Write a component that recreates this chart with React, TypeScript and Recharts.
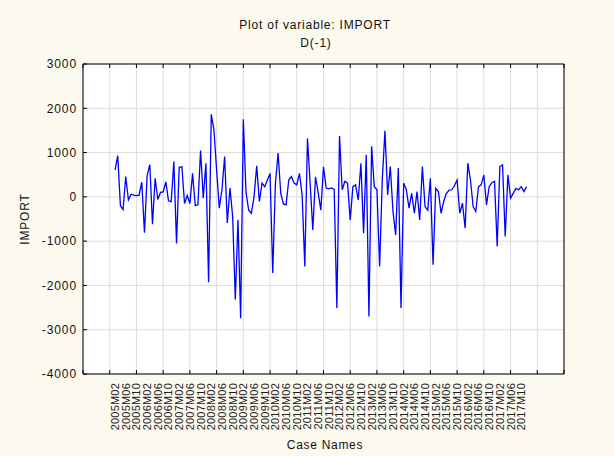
import React from "react";
import {
  LineChart,
  Line,
  XAxis,
  YAxis,
  CartesianGrid,
} from "recharts";

// D(-1) of IMPORT, monthly, 2005M02 .. 2017M12 (one row per year, Jan..Dec)
const values2005 = [609, 930, -200, -290, 460, -70, 60, 40, 30, 40, 330];
const values2006 = [-810, 480, 730, -620, 420, -60, 100, 110, 340, -90, -110, 800];
const values2007 = [-1050, 670, 680, -150, 30, -150, 530, -200, -180, 1045, -30, 760];
const values2008 = [-1930, 1865, 1510, 610, -255, 160, 910, -590, 200, -440, -2320, -520];
const values2009 = [-2740, 1750, 100, -300, -370, 0, 700, -105, 310, 230, 380, 530];
const values2010 = [-1720, 300, 990, 80, -160, -180, 380, 460, 310, 270, 530, 45];
const values2011 = [-1570, 1320, 300, -750, 450, 100, -300, 680, 200, 180, 200, 170];
const values2012 = [-2510, 1375, 160, 350, 310, -520, 230, 270, -70, 760, -820, 950];
const values2013 = [-2700, 1140, 230, 160, -1570, 400, 1490, 45, 685, -330, -860, 650];
const values2014 = [-2510, 310, 160, -255, 80, -370, 120, -520, 685, -220, -300, 420];
const values2015 = [-1535, 195, 120, -370, -100, 80, 150, 160, 250, 380, -370, -140];
const values2016 = [-710, 760, 380, -220, -330, 230, 270, 495, -180, 230, 320, 350];
const values2017 = [-1120, 685, 720, -895, 495, -30, 80, 190, 160, 230, 120, 230];

const series = [
  ...values2005, ...values2006, ...values2007, ...values2008, ...values2009,
  ...values2010, ...values2011, ...values2012, ...values2013, ...values2014,
  ...values2015, ...values2016, ...values2017,
];

// case numbers: first observation is case 12
const firstCase = 12;

const caseLabels = [
  "2005M02", "2005M06", "2005M10", "2006M02", "2006M06", "2006M10",
  "2007M02", "2007M06", "2007M10", "2008M02", "2008M06", "2008M10",
  "2009M02", "2009M06", "2009M10", "2010M02", "2010M06", "2010M10",
  "2011M02", "2011M06", "2011M10", "2012M02", "2012M06", "2012M10",
  "2013M02", "2013M06", "2013M10", "2014M02", "2014M06", "2014M10",
  "2015M02", "2015M06", "2015M10", "2016M02", "2016M06", "2016M10",
  "2017M02", "2017M06", "2017M10",
];

const yTicks = [-4000, -3000, -2000, -1000, 0, 1000, 2000, 3000];
const gridTicks = [0, 10, 20, 30, 40, 50, 60, 70, 80, 90, 100, 110, 120, 130, 140, 150, 160, 170, 180];

const data = series.map((v, i) => ({ caseNo: firstCase + i, value: v }));
const labelTicks = caseLabels.map((_, k) => firstCase + k * 4);

const FONT = "'Liberation Sans', Arial, sans-serif";

const CaseTick = (props: any) => {
  const { x, y, payload } = props;
  const label = caseLabels[(payload.value - firstCase) / 4];
  return (
    <text
      x={x}
      y={y}
      dy="0.36em"
      transform={`rotate(-90 ${x} ${y})`}
      textAnchor="end"
      fontSize={11}
      fontFamily={FONT}
      letterSpacing={0.2}
      fill="#222"
    >
      {label}
    </text>
  );
};

const NoTick = () => <g />;

const tickStyle = { fill: "#111", fontSize: 12, fontFamily: FONT, letterSpacing: 0.9 };

export default function App() {
  return (
    <div
      style={{
        position: "absolute",
        left: 0,
        top: 0,
        width: 614,
        height: 456,
        background: "#fcf9ef",
        fontFamily: FONT,
        color: "#111",
      }}
    >
      <div style={{ position: "absolute", left: 0, width: 630, top: 18, textAlign: "center", fontSize: 12, lineHeight: "14px", letterSpacing: 0.8 }}>
        Plot of variable: IMPORT
      </div>
      <div style={{ position: "absolute", left: 0, width: 632, top: 36, textAlign: "center", fontSize: 12, lineHeight: "14px", letterSpacing: 0.8 }}>
        D(-1)
      </div>
      <div
        style={{
          position: "absolute",
          left: 25,
          top: 219,
          transform: "translate(-50%, -50%) rotate(-90deg)",
          fontSize: 12,
          letterSpacing: 0.8,
          whiteSpace: "nowrap",
        }}
      >
        IMPORT
      </div>
      <div style={{ position: "absolute", left: 0, width: 650, top: 438, textAlign: "center", fontSize: 12, lineHeight: "14px", letterSpacing: 0.7 }}>
        Case Names
      </div>
      <LineChart
        width={614}
        height={456}
        data={data}
        margin={{ top: 63, right: 6, bottom: 0, left: 23 }}
      >
        <CartesianGrid
          xAxisId="grid"
          yAxisId="left"
          stroke="#dcdcdc"
          fill="#ffffff"
        />
        <XAxis
          xAxisId="top"
          orientation="top"
          type="number"
          dataKey="caseNo"
          domain={[0, 180]}
          ticks={gridTicks}
          height={1}
          tick={<NoTick />}
          tickSize={-4}
          stroke="#000"
          interval={0}
        />
        <XAxis
          xAxisId="grid"
          type="number"
          dataKey="caseNo"
          domain={[0, 180]}
          ticks={gridTicks}
          height={1}
          tick={<NoTick />}
          tickSize={-4}
          stroke="#000"
          interval={0}
        />
        <XAxis
          xAxisId="labels"
          type="number"
          dataKey="caseNo"
          domain={[0, 180]}
          ticks={labelTicks}
          height={81}
          axisLine={false}
          tickLine={false}
          tickSize={0}
          tickMargin={8}
          interval={0}
          tick={<CaseTick />}
        />
        <YAxis
          yAxisId="left"
          domain={[-4000, 3000]}
          ticks={yTicks}
          width={60}
          tickSize={-4}
          tickMargin={10}
          stroke="#000"
          tick={tickStyle}
          interval={0}
        />
        <YAxis
          yAxisId="right"
          orientation="right"
          domain={[-4000, 3000]}
          ticks={yTicks}
          width={44}
          tickSize={-4}
          tickMargin={12}
          stroke="#000"
          tick={{ ...tickStyle, textAnchor: "start" }}
          interval={0}
        />
        <Line
          xAxisId="grid"
          yAxisId="left"
          type="linear"
          dataKey="value"
          stroke="#0000ff"
          strokeWidth={1.3}
          dot={false}
          isAnimationActive={false}
        />
      </LineChart>
    </div>
  );
}
